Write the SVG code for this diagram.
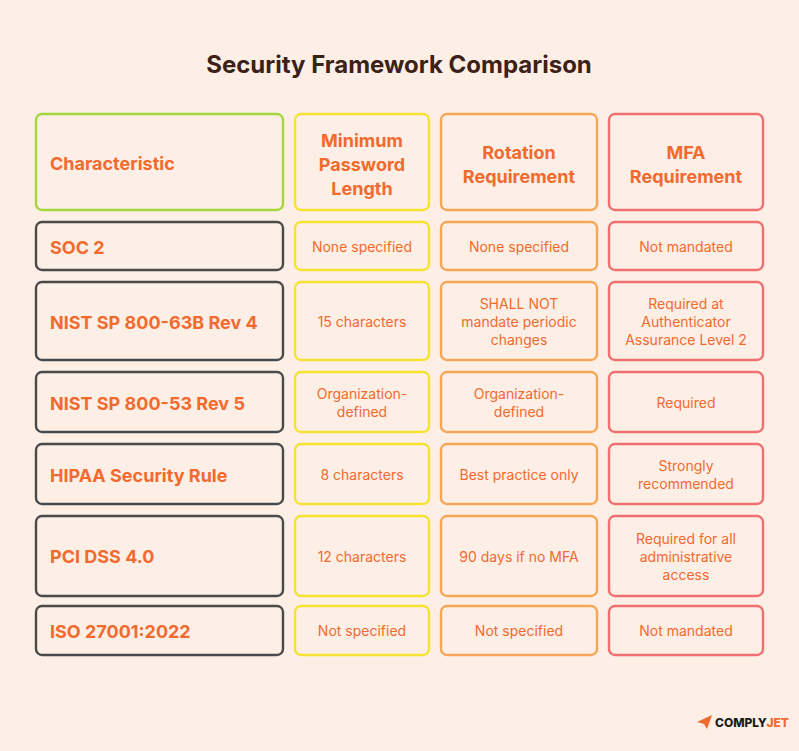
<svg xmlns="http://www.w3.org/2000/svg" width="799" height="751" viewBox="0 0 799 751">
<style>
.b{fill:none;stroke-width:2.4;rx:6}
.g{stroke:#a3d83c}.y{stroke:#f5e232}.o{stroke:#f7a656}.r{stroke:#f07070}.k{stroke:#4a4a4a}
text{font-family:Inter,"Liberation Sans",sans-serif;fill:#f26a2e;text-anchor:middle}
.h{font-size:18px;font-weight:700}
.f{font-size:18px;font-weight:700;text-anchor:start}
.c{font-size:14px}
</style>
<rect width="799" height="751" fill="#fdefe6"/>
<text x="399" y="73" style="font-size:24px;font-weight:700;fill:#3b2116">Security Framework Comparison</text>
<g id="header">
<rect class="b g" x="36" y="114" width="247" height="96"/><text class="f" x="50" y="170">Characteristic</text>
<rect class="b y" x="295" y="114" width="134" height="96"/><text class="h" x="362" y="147">Minimum</text><text class="h" x="362" y="171">Password</text><text class="h" x="362" y="195">Length</text>
<rect class="b o" x="441" y="114" width="156" height="96"/><text class="h" x="519" y="159">Rotation</text><text class="h" x="519" y="183">Requirement</text>
<rect class="b r" x="609" y="114" width="154" height="96"/><text class="h" x="686" y="159">MFA</text><text class="h" x="686" y="183">Requirement</text>
</g>
<g id="soc2">
<rect class="b k" x="36" y="222" width="247" height="48"/><text class="f" x="50" y="254">SOC 2</text>
<rect class="b y" x="295" y="222" width="134" height="48"/><text class="c" x="362" y="252">None specified</text>
<rect class="b o" x="441" y="222" width="156" height="48"/><text class="c" x="519" y="252">None specified</text>
<rect class="b r" x="609" y="222" width="154" height="48"/><text class="c" x="686" y="252">Not mandated</text>
</g>
<g id="nist63b">
<rect class="b k" x="36" y="282" width="247" height="78"/><text class="f" x="50" y="329">NIST SP 800-63B Rev 4</text>
<rect class="b y" x="295" y="282" width="134" height="78"/><text class="c" x="362" y="327">15 characters</text>
<rect class="b o" x="441" y="282" width="156" height="78"/><text class="c" x="519" y="309">SHALL NOT</text><text class="c" x="519" y="327">mandate periodic</text><text class="c" x="519" y="345">changes</text>
<rect class="b r" x="609" y="282" width="154" height="78"/><text class="c" x="686" y="309">Required at</text><text class="c" x="686" y="327">Authenticator</text><text class="c" x="686" y="345">Assurance Level 2</text>
</g>
<g id="nist53">
<rect class="b k" x="36" y="372" width="247" height="60"/><text class="f" x="50" y="410">NIST SP 800-53 Rev 5</text>
<rect class="b y" x="295" y="372" width="134" height="60"/><text class="c" x="362" y="399">Organization-</text><text class="c" x="362" y="417">defined</text>
<rect class="b o" x="441" y="372" width="156" height="60"/><text class="c" x="519" y="399">Organization-</text><text class="c" x="519" y="417">defined</text>
<rect class="b r" x="609" y="372" width="154" height="60"/><text class="c" x="686" y="408">Required</text>
</g>
<g id="hipaa">
<rect class="b k" x="36" y="444" width="247" height="60"/><text class="f" x="50" y="482">HIPAA Security Rule</text>
<rect class="b y" x="295" y="444" width="134" height="60"/><text class="c" x="362" y="480">8 characters</text>
<rect class="b o" x="441" y="444" width="156" height="60"/><text class="c" x="519" y="480">Best practice only</text>
<rect class="b r" x="609" y="444" width="154" height="60"/><text class="c" x="686" y="471">Strongly</text><text class="c" x="686" y="489">recommended</text>
</g>
<g id="pci">
<rect class="b k" x="36" y="516" width="247" height="80"/><text class="f" x="50" y="563">PCI DSS 4.0</text>
<rect class="b y" x="295" y="516" width="134" height="80"/><text class="c" x="362" y="562">12 characters</text>
<rect class="b o" x="441" y="516" width="156" height="80"/><text class="c" x="519" y="562">90 days if no MFA</text>
<rect class="b r" x="609" y="516" width="154" height="80"/><text class="c" x="686" y="544">Required for all</text><text class="c" x="686" y="562">administrative</text><text class="c" x="686" y="580">access</text>
</g>
<g id="iso">
<rect class="b k" x="36" y="606" width="247" height="49"/><text class="f" x="50" y="638">ISO 27001:2022</text>
<rect class="b y" x="295" y="606" width="134" height="49"/><text class="c" x="362" y="636">Not specified</text>
<rect class="b o" x="441" y="606" width="156" height="49"/><text class="c" x="519" y="636">Not specified</text>
<rect class="b r" x="609" y="606" width="154" height="49"/><text class="c" x="686" y="636">Not mandated</text>
</g>
<g id="logo">
<polygon points="697,722 712,715 707,729 704,724" fill="#f26a2e"/>
<text x="715" y="727" style="font-size:12px;font-weight:800;text-anchor:start;fill:#1a1a1a">COMPLY<tspan fill="#f26a2e">JET</tspan></text>
</g>
</svg>
